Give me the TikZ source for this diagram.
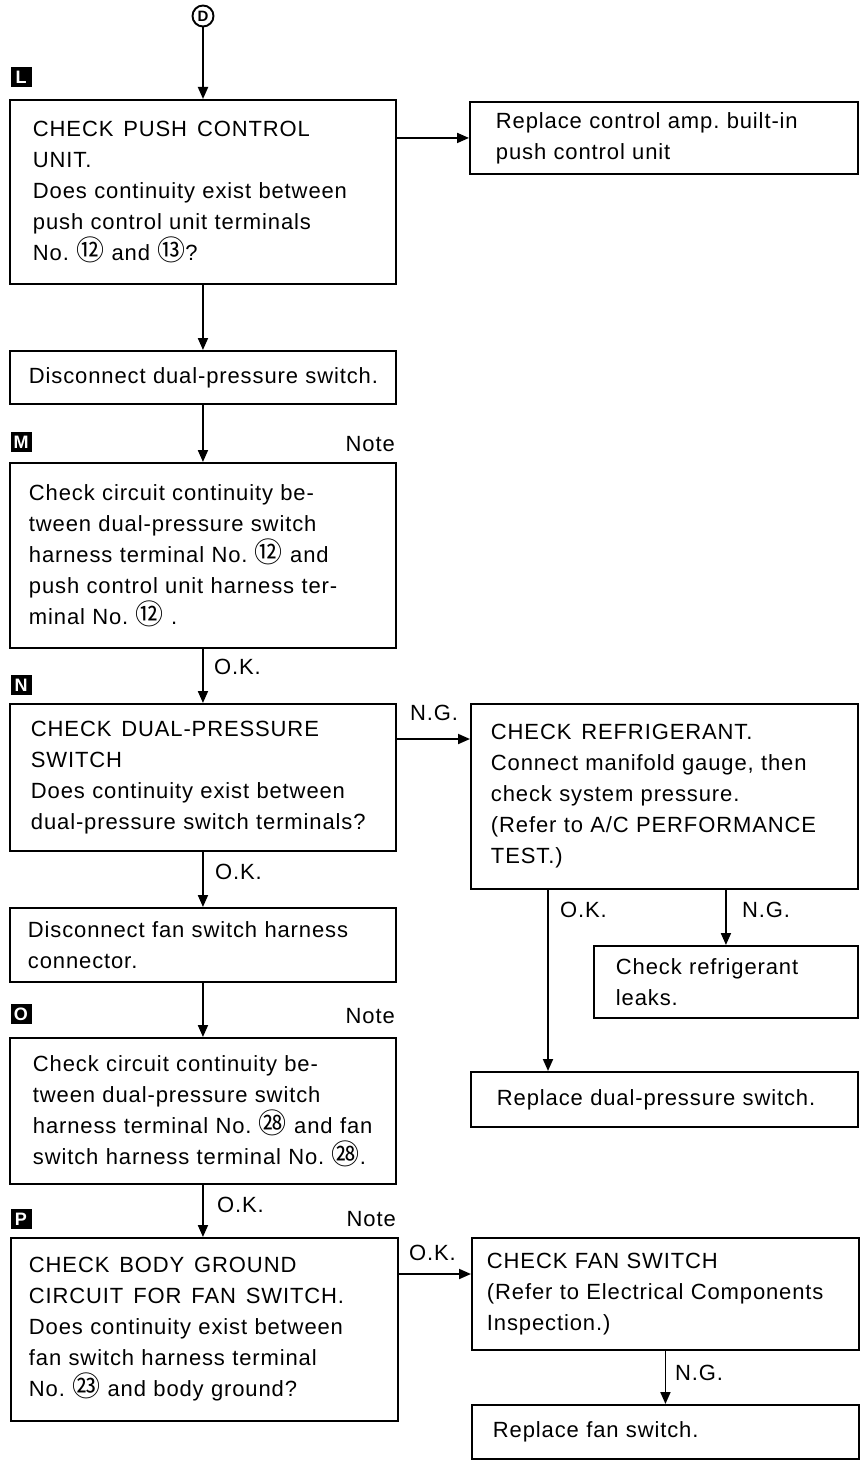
\documentclass[tikz,border=0pt]{standalone}
\usepackage{fontspec}
\setmainfont{Liberation Sans}[LetterSpace=4]
\newfontfamily\cjk{Noto Sans CJK SC}
\usetikzlibrary{arrows.meta,calc}
\newcommand{\cnum}[1]{{\cjk\fontsize{28}{31}\selectfont #1}}
\newcommand{\wsp}{\hspace{0.45em}}
\frenchspacing
\tikzset{
  bx/.style n args={4}{draw, line width=1.9pt, anchor=north west, align=left,
    font=\fontsize{22}{31}\selectfont, inner ysep=0pt,
    minimum width=#1pt, minimum height=#2pt, inner xsep=#3pt, text width=#4pt},
  arr/.style={line width=1.9pt, -{Triangle[length=12pt,width=10pt]}},
  lbl/.style={font=\fontsize{22}{26}\selectfont, inner sep=0pt},
  marker/.style={fill=black, text=white, font=\fontsize{18}{18}\selectfont\bfseries,
    minimum width=21pt, minimum height=20pt, inner sep=0pt}
}
\begin{document}
\begin{tikzpicture}[x=1pt,y=-1pt]
\useasboundingbox (0,0) rectangle (861,1461);
% start connector
\node[circle, draw, line width=1.9pt, inner sep=0pt, minimum size=21pt,
  font=\fontsize{15}{15}\selectfont\bfseries] (D) at (203,16) {D};
% markers
\node[marker] (mL) at (21,77) {L};
\node[marker] (mM) at (21,442) {M};
\node[marker] (mN) at (21,685) {N};
\node[marker] (mO) at (21,1014) {O};
\node[marker] (mP) at (21,1219) {P};
% boxes
\node[bx={386}{184}{23}{340}] (L) at (9,99) {CHECK\wsp PUSH\wsp CONTROL\\UNIT.\\Does continuity exist between\\push control unit terminals\\No. \cnum{⑫} and \cnum{⑬}?};
\node[bx={388}{72}{26}{336}] (A) at (469,101) {Replace control amp. built-in\\push control unit};
\node[bx={386}{53}{19}{348}] (B) at (9,350) {Disconnect dual-pressure switch.};
\node[bx={386}{185}{19}{348}] (M) at (9,462) {Check circuit continuity be-\\tween dual-pressure switch\\harness terminal No. \cnum{⑫} and\\push control unit harness ter-\\minal No. \cnum{⑫} .};
\node[bx={386}{147}{21}{344}] (N) at (9,703) {CHECK\wsp DUAL-PRESSURE\\SWITCH\\Does continuity exist between\\dual-pressure switch terminals?};
\node[bx={387}{185}{20}{347}] (R) at (470,703) {CHECK\wsp REFRIGERANT.\\Connect manifold gauge, then\\check system pressure.\\(Refer to A/C PERFORMANCE\\TEST.)};
\node[bx={264}{72}{22}{220}] (K) at (593,945) {Check refrigerant\\leaks.};
\node[bx={387}{55}{26}{335}] (S) at (470,1071) {Replace dual-pressure switch.};
\node[bx={386}{74}{18}{350}] (F) at (9,907) {Disconnect fan switch harness\\connector.};
\node[bx={386}{146}{23}{340}] (O) at (9,1037) {Check circuit continuity be-\\tween dual-pressure switch\\harness terminal No. \cnum{㉘} and fan\\switch harness terminal No. \cnum{㉘}.};
\node[bx={387}{183}{18}{351}] (P) at (10,1237) {CHECK\wsp BODY\wsp GROUND\\CIRCUIT\wsp FOR\wsp FAN\wsp SWITCH.\\Does continuity exist between\\fan switch harness terminal\\No. \cnum{㉓} and body ground?};
\node[bx={387}{112}{15}{357}] (Q) at (471,1237) {CHECK FAN SWITCH\\(Refer to Electrical Components\\Inspection.)};
\node[bx={387}{54}{21}{345}] (Z) at (471,1404) {Replace fan switch.};
% helper coordinates
\coordinate (nry) at (0,739);
\coordinate (rsx) at (548,0);
\coordinate (pqy) at (0,1274);
% connectors
\draw[arr] (D.south) -- (D.south |- L.north);
\draw[arr] (L.east |- A.west) -- (A.west);
\draw[arr] (L.south) -- (B.north);
\draw[arr] (B.south) -- (M.north);
\draw[arr] (M.south) -- (N.north);
\draw[arr] (N.east |- nry) -- (R.west |- nry);
\draw[arr] (N.south) -- (F.north);
\draw[arr] (F.south) -- (O.north);
\draw[arr] (O.south) -- (O.south |- P.north);
\draw[arr] (R.south -| rsx) -- (S.north -| rsx);
\draw[arr] (R.south -| K.north) -- (K.north);
\draw[arr] (P.east |- pqy) -- (Q.west |- pqy);
\draw[arr] (Q.south) -- (Z.north);
% labels
\node[lbl, anchor=east] (n1) at (395,444) {Note};
\node[lbl, anchor=west] (k1) at (214,667) {O.K.};
\node[lbl, anchor=west] (g1) at (410,713) {N.G.};
\node[lbl, anchor=west] (k2) at (215,872) {O.K.};
\node[lbl, anchor=west] (k3) at (560,910) {O.K.};
\node[lbl, anchor=west] (g2) at (742,910) {N.G.};
\node[lbl, anchor=east] (n2) at (395,1016) {Note};
\node[lbl, anchor=west] (k4) at (217,1205) {O.K.};
\node[lbl, anchor=east] (n3) at (396,1219) {Note};
\node[lbl, anchor=west] (k5) at (409,1253) {O.K.};
\node[lbl, anchor=west] (g3) at (675,1373) {N.G.};
\end{tikzpicture}
\end{document}
